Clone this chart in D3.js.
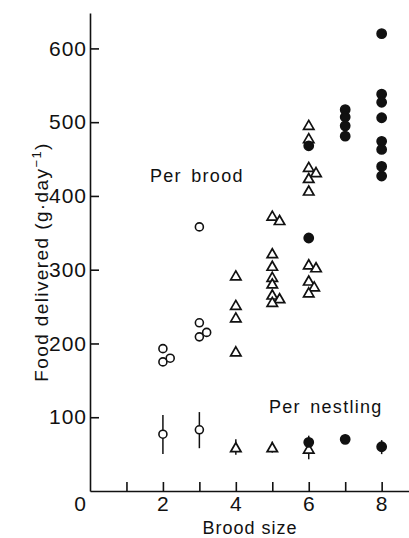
<!doctype html>
<html>
<head>
<script src="https://d3js.org/d3.v7.min.js"></script>
<style>
  body { margin: 0; background: #fff; }
  svg text { font-family: "Liberation Sans", Arial, sans-serif; fill: #111; }
  .axis path, .axis line { stroke: #111; stroke-width: 1.6; }
  .axis text { font-size: 21px; letter-spacing: 1px; }
</style>
</head>
<body>
<script>
// per brood: open circles (broods of 2-3), triangles (4-6), filled circles (6-8)
let circleX = [2, 2, 2.2, 3, 3, 3, 3.2];
let circleY = [193, 175, 180, 358, 228, 209, 215];

let triX = [4, 4, 4, 4,
            5, 5.2, 5, 5, 5, 5, 5, 5.2, 5,
            6, 6, 6, 6.2, 6, 6, 6, 6.2, 6, 6.15, 6];
let triY = [291, 251, 234, 188,
            372, 366, 321, 304, 289, 280, 265, 260, 255,
            495, 477, 438, 431, 423, 406, 306, 302, 284, 276, 268];

let dotX = [6, 6, 7, 7, 7, 7, 8, 8, 8, 8, 8, 8, 8, 8];
let dotY = [468, 343, 517, 507, 495, 481, 620, 538, 527, 506, 474, 463, 440, 427];

// per nestling: mean with range bars
let nestSize  = [2, 3, 4, 5, 6, 6, 7, 8];
let nestMean  = [77, 83, 58, 58, 56, 66, 70, 60];
let nestLow   = [50, 58, 49, 52, 43, 66, 70, 50];
let nestHigh  = [103, 107, 70, 67, 75, 66, 70, 69];
let nestShape = ["circle", "circle", "tri", "tri", "tri", "dot", "dot", "dot"];

let yTicks = [100, 200, 300, 400, 500, 600];
let xTicks = [0, 1, 2, 3, 4, 5, 6, 7, 8];

let width = 409, height = 538;

let x = d3.scaleLinear().domain([0, 8.75]).range([90, 409]);
let y = d3.scaleLinear().domain([0, 648]).range([491, 13]);

let svg = d3.select("body").append("svg")
    .attr("width", width)
    .attr("height", height);

// axes, ticks pointing inward
svg.append("g")
    .attr("class", "axis")
    .attr("transform", "translate(" + x(0) + ",0)")
    .call(d3.axisLeft(y).tickValues(yTicks).tickSize(-9).tickSizeOuter(0).tickPadding(3));

let xAxis = svg.append("g")
    .attr("class", "axis")
    .attr("transform", "translate(0," + y(0) + ")")
    .call(d3.axisBottom(x).tickValues(xTicks).tickSize(-9).tickSizeOuter(0).tickPadding(5)
        .tickFormat(d => d % 2 === 0 ? d : ""));

// the corner "0" sits a little left of the origin
xAxis.selectAll(".tick").filter(d => d === 0).select("line").remove();
xAxis.selectAll(".tick").filter(d => d === 0).select("text").attr("dx", -10);

svg.append("text")
    .attr("x", 250)
    .attr("y", 534)
    .attr("text-anchor", "middle")
    .style("font-size", "18px")
    .style("letter-spacing", "1px")
    .text("Brood size");

let yl = svg.append("text")
    .attr("transform", "translate(48,262) rotate(-90)")
    .attr("text-anchor", "middle")
    .style("font-size", "19px")
    .style("letter-spacing", "1.4px");
yl.append("tspan").text("Food delivered (g\u00b7day");
yl.append("tspan").attr("dy", -7).style("font-size", "13px").text("\u22121");
yl.append("tspan").attr("dy", 7).text(")");

// triangle path centred on the point
let tri = "M0,-5.5L5.2,3.5L-5.2,3.5Z";

function drawMarks(xs, ys, shape) {
    let pts = d3.range(xs.length).map(i => [xs[i], ys[i]]);
    if (shape === "tri") {
        svg.append("g").selectAll("path").data(pts).enter().append("path")
            .attr("d", tri)
            .attr("transform", d => "translate(" + x(d[0]) + "," + y(d[1]) + ")")
            .attr("fill", "#fff").attr("stroke", "#111").attr("stroke-width", 1.7);
    } else {
        svg.append("g").selectAll("circle").data(pts).enter().append("circle")
            .attr("cx", d => x(d[0]))
            .attr("cy", d => y(d[1]))
            .attr("r", shape === "dot" ? 4.6 : 4)
            .attr("fill", shape === "dot" ? "#111" : "#fff")
            .attr("stroke", "#111").attr("stroke-width", 1.6);
    }
}

drawMarks(circleX, circleY, "circle");
drawMarks(triX, triY, "tri");
drawMarks(dotX, dotY, "dot");

// per nestling range bars
svg.append("g").selectAll("line").data(nestSize).enter().append("line")
    .attr("x1", d => x(d)).attr("x2", d => x(d))
    .attr("y1", (d, i) => y(nestLow[i]))
    .attr("y2", (d, i) => y(nestHigh[i]))
    .attr("stroke", "#111").attr("stroke-width", 1.5);

["circle", "tri", "dot"].forEach(s => {
    let idx = d3.range(nestSize.length).filter(i => nestShape[i] === s);
    drawMarks(idx.map(i => nestSize[i]), idx.map(i => nestMean[i]), s);
});

svg.append("text")
    .attr("x", 150).attr("y", 182)
    .style("font-size", "18px").style("letter-spacing", "1.3px").style("word-spacing", "3px")
    .text("Per brood");

svg.append("text")
    .attr("x", 269).attr("y", 413)
    .style("font-size", "18px").style("letter-spacing", "1.3px").style("word-spacing", "3px")
    .text("Per nestling");
</script>
</body>
</html>
